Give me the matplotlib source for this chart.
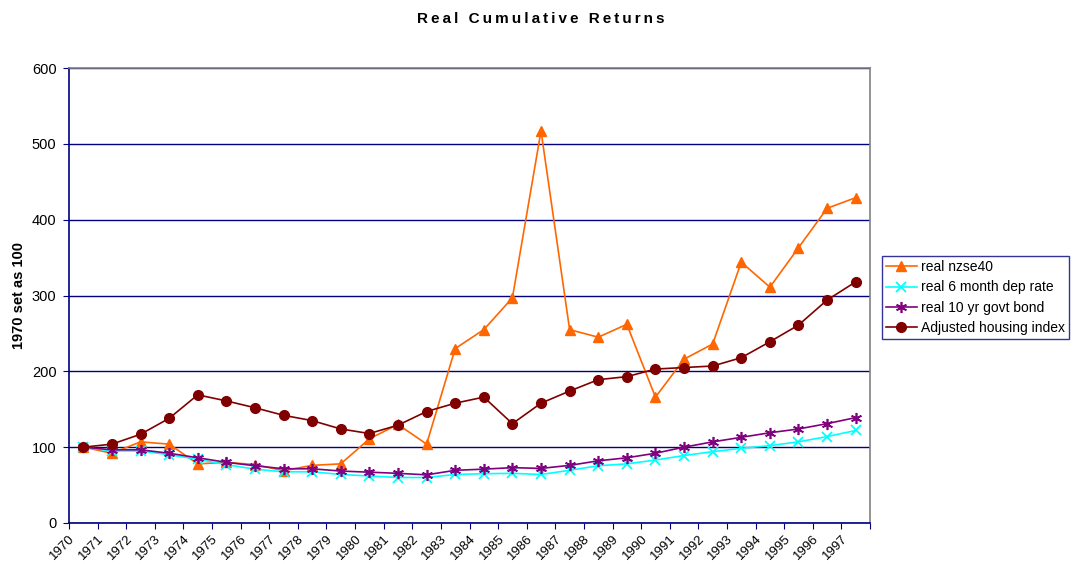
import matplotlib
matplotlib.use('Agg')
import matplotlib.pyplot as plt
import matplotlib.transforms as mtransforms

plt.rcParams['font.family'] = ['Liberation Sans', 'DejaVu Sans']

years = [str(y) for y in range(1970, 1998)]

nzse40 = [100, 92, 107, 104, 78, 80, 77, 69, 76, 78, 111, 130, 104, 230,
          255, 297, 517, 255, 245, 262, 166, 216, 236, 344, 311, 363, 415, 429]
dep_6m = [100, 95, 95, 90, 84, 77, 71, 67.5, 67.5, 64, 62, 60, 60, 64,
          65, 65.5, 64, 69.5, 75.5, 78, 83, 89, 94, 98.5, 102, 107, 114, 122]
bond_10y = [100, 96.5, 96.5, 92, 86, 80, 75.5, 71.5, 71.5, 68.5, 67, 65.5, 63.5, 69.5,
            71, 73, 72, 76, 82, 86, 92, 100, 107, 113, 119, 124, 131, 139]
housing = [100, 104, 117, 138, 169, 161, 152, 142, 135, 124, 118, 129, 147, 158,
           166, 131, 158, 174, 189, 193, 203, 205, 207, 218, 239, 261, 294, 318]

navy = '#000080'

fig = plt.figure(figsize=(10.81, 5.64), dpi=100)
ax = fig.add_axes([69 / 1081, 1 - 523 / 564, 801 / 1081, 455 / 564])

x = list(range(len(years)))
ax.plot(x, nzse40, color='#FF6600', marker='^', markersize=7, lw=1.2, label='real nzse40')
ax.plot(x, dep_6m, color='#00FFFF', marker='x', markersize=7, mew=1.3, lw=1.2,
        label='real 6 month dep rate')
ax.plot(x, bond_10y, color='#800080', marker=(6, 2, 0), markersize=8, mew=1.2, lw=1.2,
        label='real 10 yr govt bond')
ax.plot(x, housing, color='#800000', marker='o', markersize=7, lw=1.2,
        label='Adjusted housing index')

ax.set_xlim(-0.5, len(years) - 0.5)
ax.set_ylim(0, 600)
ax.set_yticks(range(0, 601, 100))
ax.yaxis.grid(True, color=navy, lw=1)
ax.set_axisbelow(True)

# category labels sit on the boundaries between points
ax.set_xticks([i - 0.5 for i in x] + [len(years) - 0.5])
ax.set_xticklabels(years + [''], rotation=45, ha='right', rotation_mode='anchor')
shift = mtransforms.ScaledTranslation(5 / 100, 0, fig.dpi_scale_trans)
for lbl in ax.get_xticklabels():
    lbl.set_transform(lbl.get_transform() + shift)

for side in ['left', 'bottom']:
    ax.spines[side].set_color(navy)
    ax.spines[side].set_linewidth(1.2)
for side in ['top', 'right']:
    ax.spines[side].set_color('#808080')
    ax.spines[side].set_linewidth(1.2)

ax.tick_params(axis='both', direction='out', length=4, color=navy, labelsize=9.5)
ax.tick_params(axis='y', pad=5, labelsize=10.5)
ax.tick_params(axis='x', pad=3)

ax.set_ylabel('1970 set as 100', fontsize=10.5, fontweight='bold', labelpad=4)

title = '\u2009 \u2009'.join('\u2009'.join(w) for w in 'Real Cumulative Returns'.split())
fig.text(0.5, 1 - 19 / 564, title, ha='center', va='center', fontsize=11, fontweight='bold')

leg = ax.legend(loc='upper left', bbox_to_anchor=(882 / 1081, 1 - 256 / 564),
                bbox_transform=fig.transFigure, fontsize=10, frameon=True,
                fancybox=False, borderpad=0.3, labelspacing=0.45,
                handlelength=2.2, handletextpad=0.3, borderaxespad=0)
leg.get_frame().set_edgecolor(navy)
leg.get_frame().set_linewidth(1)

fig.savefig('out.png', dpi=100)
